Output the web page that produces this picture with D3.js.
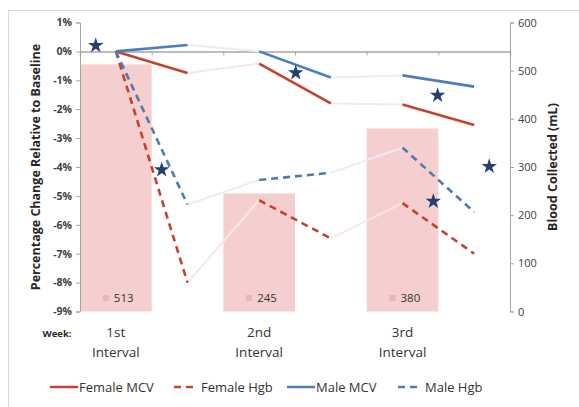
<!DOCTYPE html>
<html><head><meta charset="utf-8">
<script src="https://cdn.jsdelivr.net/npm/d3@7"></script>
<style>body{margin:0;background:#fff}svg{display:block;font-family:"Open Sans",sans-serif}</style>
</head><body><svg id="c" width="579" height="407"></svg>
<script>
// ---- data ----
const categories = ["1st\nInterval", "", "2nd\nInterval", "", "3rd\nInterval", ""];
const barValues = [513, null, 245, null, 380, null];
const femaleMCV = [0, -0.75, -0.42, -1.8, -1.84, -2.55];
const femaleHgb = [0, -8.0, -5.15, -6.47, -5.25, -7.0];
const maleMCV   = [0, 0.22, 0, -0.9, -0.83, -1.22];
const maleHgb   = [0, -5.3, -4.45, -4.2, -3.33, -5.56];
const segmentStarts = [0, 2, 4];
const starX = [0.22, 1.14, 3.01, 4.99, 4.93, 5.71];
const starY = [0.2, -4.1, -0.74, -1.52, -5.19, -3.98];
const leftTicks = [1, 0, -1, -2, -3, -4, -5, -6, -7, -8, -9];
const rightTicks = [600, 500, 400, 300, 200, 100, 0];
const legendNames = ["Female MCV", "Female Hgb", "Male MCV", "Male Hgb"];

const svg = d3.select("#c");
const L = 80, R = 510, T = 22.5, B = 311.5;
const x = d3.scaleBand().domain(d3.range(categories.length)).range([L, R]).padding(0);
const xs = d3.scaleLinear().domain([0, categories.length]).range([L, R]);
const y = d3.scaleLinear().domain([-9, 1]).range([B, T]);
const y2 = d3.scaleLinear().domain([0, 600]).range([B, T]);
const cx = i => x(i) + x.bandwidth() / 2;

// outer border
svg.append("rect").attr("x", 8.5).attr("y", 10.5).attr("width", 580).attr("height", 420)
  .attr("fill", "none").attr("stroke", "#d9d9d9");

// bars
svg.append("g").selectAll("rect").data(barValues.map((v, i) => ({v, i})).filter(d => d.v != null))
  .join("rect").attr("x", d => x(d.i)).attr("width", x.bandwidth())
  .attr("y", d => y2(d.v)).attr("height", d => y2(0) - y2(d.v)).attr("fill", "#f5cfd0");

// bar labels
const bl = svg.append("g").selectAll("g").data(barValues.map((v, i) => ({v, i})).filter(d => d.v != null)).join("g");
bl.append("rect").attr("x", d => cx(d.i) - 13).attr("y", 295).attr("width", 6).attr("height", 6).attr("fill", "#eeb3b8");
bl.append("text").attr("x", d => cx(d.i) - 2).attr("y", 302).attr("font-size", 11.5).attr("fill", "#333").text(d => d.v);

// left axis
const la = svg.append("g").attr("transform", `translate(${L},0)`)
  .call(d3.axisLeft(y).tickValues(leftTicks).tickSize(4).tickFormat(d => d + "%"));
la.select(".domain").attr("stroke", "#a6a6a6");
la.selectAll(".tick line").attr("stroke", "#a6a6a6");
la.selectAll("text").attr("font-size", 10.5).attr("font-weight", "bold").attr("fill", "#404040")
  .attr("font-family", "Open Sans").attr("x", -8);

// right axis
const ra = svg.append("g").attr("transform", `translate(${R},0)`)
  .call(d3.axisRight(y2).tickValues(rightTicks).tickSize(4));
ra.select(".domain").attr("stroke", "#a6a6a6");
ra.selectAll(".tick line").attr("stroke", "#a6a6a6");
ra.selectAll("text").attr("font-size", 11).attr("fill", "#404040").attr("font-family", "Open Sans").attr("x", 8);

// zero category axis
const za = svg.append("g").attr("transform", `translate(0,${y(0)})`)
  .call(d3.axisBottom(xs).tickValues(d3.range(1, categories.length + 1)).tickSize(4).tickFormat(""));
za.select(".domain").attr("stroke", "#a6a6a6").attr("stroke-width", 1.5);
za.selectAll(".tick line").attr("stroke", "#a6a6a6");

// axis titles
svg.append("text").attr("transform", `translate(40,${(T + B) / 2}) rotate(-90)`).attr("text-anchor", "middle")
  .attr("font-size", 12.5).attr("font-weight", "bold").attr("fill", "#262626").text("Percentage Change Relative to Baseline");
svg.append("text").attr("transform", `translate(557,${(T + B) / 2}) rotate(-90)`).attr("text-anchor", "middle")
  .attr("font-size", 12.5).attr("font-weight", "bold").attr("fill", "#262626").text("Blood Collected (mL)");

// category labels
svg.append("text").attr("x", 57).attr("y", 337).attr("text-anchor", "middle").attr("font-size", 9.5)
  .attr("font-weight", "bold").attr("fill", "#262626").text("Week:");
const cl = svg.append("g").selectAll("text").data(categories.map((c, i) => ({c, i})).filter(d => d.c)).join("text")
  .attr("text-anchor", "middle").attr("font-size", 13.5).attr("fill", "#333");
cl.each(function(d) {
  const parts = d.c.split("\n");
  d3.select(this).selectAll("tspan").data(parts).join("tspan")
    .attr("x", cx(d.i)).attr("y", (p, k) => 337 + k * 20).text(p => p);
});

// series
const series = [
  {name: legendNames[0], vals: femaleMCV, color: "#c8412e", faint: "#f7e8e6", dash: null},
  {name: legendNames[1], vals: femaleHgb, color: "#c8412e", faint: "#f7e8e6", dash: "7,5"},
  {name: legendNames[2], vals: maleMCV, color: "#4a7ec0", faint: "#eaeef4", dash: null},
  {name: legendNames[3], vals: maleHgb, color: "#5479ad", faint: "#eaeef4", dash: "7,5"}
];
const line = d3.line().x(d => cx(d.i)).y(d => y(d.v));
// faint connectors
series.forEach(s => {
  segmentStarts.slice(1).forEach(st => {
    svg.append("path").datum([{i: st - 1, v: s.vals[st - 1]}, {i: st, v: s.vals[st]}])
      .attr("d", line).attr("fill", "none").attr("stroke", s.faint).attr("stroke-width", 2);
  });
});
series.forEach(s => {
  segmentStarts.forEach(st => {
    svg.append("path").datum([{i: st, v: s.vals[st]}, {i: st + 1, v: s.vals[st + 1]}])
      .attr("d", line).attr("fill", "none").attr("stroke", s.color).attr("stroke-width", 2.6)
      .attr("stroke-dasharray", s.dash);
  });
});

// stars
svg.append("g").selectAll("path").data(starX.map((v, i) => ({x: v, y: starY[i]}))).join("path")
  .attr("transform", d => `translate(${xs(d.x)},${y(d.y)})`)
  .attr("d", d3.symbol(d3.symbolStar, 75)).attr("fill", "#23406e");

// legend
const lgX = [50, 174, 287, 398], lgY = 387;
series.forEach((s, k) => {
  const w = s.dash ? 22 : 28;
  svg.append("line").attr("x1", lgX[k]).attr("x2", lgX[k] + w).attr("y1", lgY).attr("y2", lgY)
    .attr("stroke", s.color).attr("stroke-width", 2.5).attr("stroke-dasharray", s.dash);
  svg.append("text").attr("x", lgX[k] + w + (s.dash ? 5 : 1)).attr("y", lgY + 5).attr("font-size", 13)
    .attr("fill", "#333").text(s.name);
});
</script></body></html>
